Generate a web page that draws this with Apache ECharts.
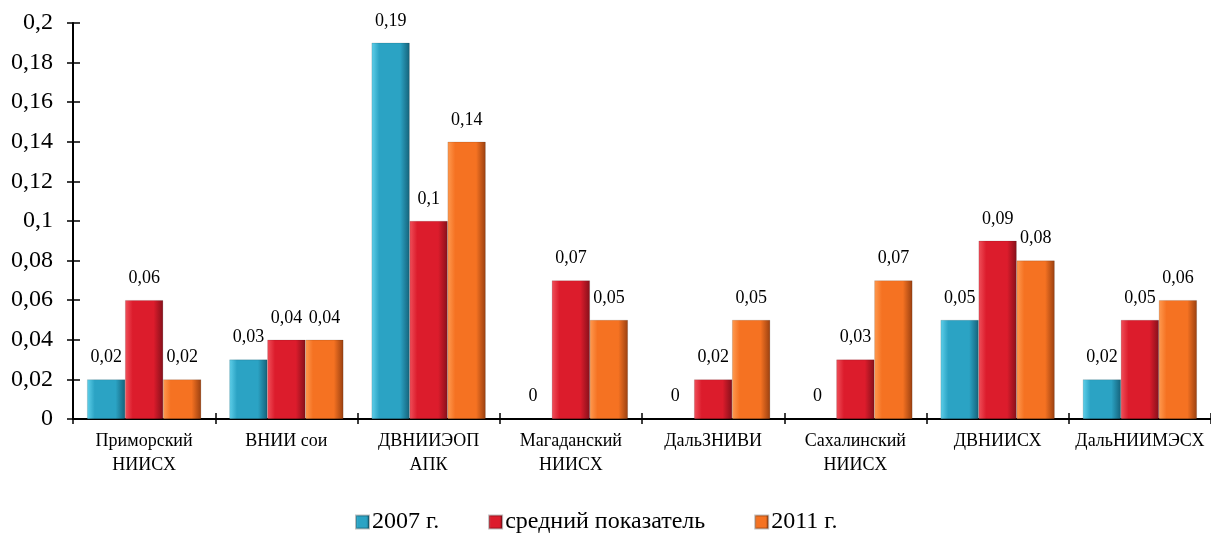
<!DOCTYPE html>
<html lang="ru">
<head>
    <meta charset="UTF-8">
    <title>Показатели НИИ</title>
    <script src="https://cdn.jsdelivr.net/npm/echarts@6/dist/echarts.min.js"></script>
    <style>
        html,
        body {
            margin: 0;
            height: 100%;
            background: #fff;
        }
        #main {
            width: 1211px;
            height: 543px;
        }
    </style>
</head>
<body>
    <div id="main"></div>
    <script type="text/javascript">
        const categories = ['Приморский\nНИИСХ', 'ВНИИ сои', 'ДВНИИЭОП\nАПК', 'Магаданский\nНИИСХ',
            'ДальЗНИВИ', 'Сахалинский\nНИИСХ', 'ДВНИИСХ', 'ДальНИИМЭСХ'];
        const values2007 = [0.02, 0.03, 0.19, 0, 0, 0, 0.05, 0.02];
        const valuesAvg = [0.06, 0.04, 0.1, 0.07, 0.02, 0.03, 0.09, 0.05];
        const values2011 = [0.02, 0.04, 0.14, 0.05, 0.05, 0.07, 0.08, 0.06];
        const seriesNames = ['2007 г.', 'средний показатель', '2011 г.'];

        const FONT = '"Liberation Serif", "DejaVu Serif", serif';
        const comma = v => String(v).replace('.', ',');

        // горизонтальный градиент, чтобы столбики выглядели объемными
        const bevel = (light, base, dark) => new echarts.graphic.LinearGradient(0, 0, 1, 0, [
            { offset: 0, color: light },
            { offset: 0.2, color: base },
            { offset: 0.75, color: base },
            { offset: 1, color: dark }
        ]);
        const colors = [
            bevel('#5fd0ea', '#2ba3c4', '#15627a'),
            bevel('#f0505a', '#dc1c2c', '#86101a'),
            bevel('#ff9a50', '#f57222', '#9a4010')
        ];
        const legendColors = ['#2ba3c4', '#dc1c2c', '#f57222'];

        const makeSeries = (name, data, i) => ({
            name: name,
            type: 'bar',
            data: data,
            barWidth: 38,
            barGap: '0%',
            itemStyle: { color: colors[i], borderColor: 'rgba(0,0,0,0.25)', borderWidth: 0.5 },
            label: {
                show: true,
                position: 'top',
                distance: 13,
                formatter: p => comma(p.value),
                fontFamily: FONT,
                fontSize: 18,
                color: '#000'
            }
        });

        // вторая ось только для засечек внутрь, чтобы засечки пересекали ось
        const hiddenLine = { show: true, lineStyle: { color: 'rgba(0,0,0,0)' } };

        const myChart = echarts.init(document.getElementById('main'));
        myChart.setOption({
            animation: false,
            color: legendColors,
            textStyle: { fontFamily: FONT },
            grid: { left: 73, top: 23, width: 1147, height: 396, containLabel: false },
            legend: {
                bottom: 4,
                left: 350,
                itemGap: 49,
                itemWidth: 13,
                itemHeight: 13,
                icon: 'rect',
                textStyle: { fontFamily: FONT, fontSize: 24, color: '#000', padding: [0, 0, 0, -2] },
                data: seriesNames
            },
            xAxis: [{
                type: 'category',
                data: categories,
                axisLine: { lineStyle: { color: '#000', width: 2 } },
                axisTick: { show: true, length: 5, lineStyle: { color: '#000', width: 1.5 } },
                axisLabel: { fontFamily: FONT, fontSize: 18, color: '#000', lineHeight: 24, margin: 10, interval: 0 }
            }, {
                type: 'category',
                data: categories,
                position: 'bottom',
                axisLine: hiddenLine,
                axisTick: { show: true, inside: true, length: 6, lineStyle: { color: '#000', width: 1.5 } },
                axisLabel: { show: false }
            }],
            yAxis: [{
                type: 'value',
                min: 0,
                max: 0.2,
                interval: 0.02,
                splitLine: { show: false },
                axisLine: { show: true, lineStyle: { color: '#000', width: 2 } },
                axisTick: { show: true, length: 6, lineStyle: { color: '#000', width: 1.5 } },
                axisLabel: {
                    fontFamily: FONT, fontSize: 24, color: '#000', margin: 20,
                    formatter: v => comma(+v.toFixed(2))
                }
            }, {
                type: 'value',
                min: 0,
                max: 0.2,
                interval: 0.02,
                position: 'left',
                splitLine: { show: false },
                axisLine: hiddenLine,
                axisTick: { show: true, inside: true, length: 7, lineStyle: { color: '#000', width: 1.5 } },
                axisLabel: { show: false }
            }],
            series: [
                makeSeries(seriesNames[0], values2007, 0),
                makeSeries(seriesNames[1], valuesAvg, 1),
                makeSeries(seriesNames[2], values2011, 2)
            ]
        });
    </script>
</body>
</html>
